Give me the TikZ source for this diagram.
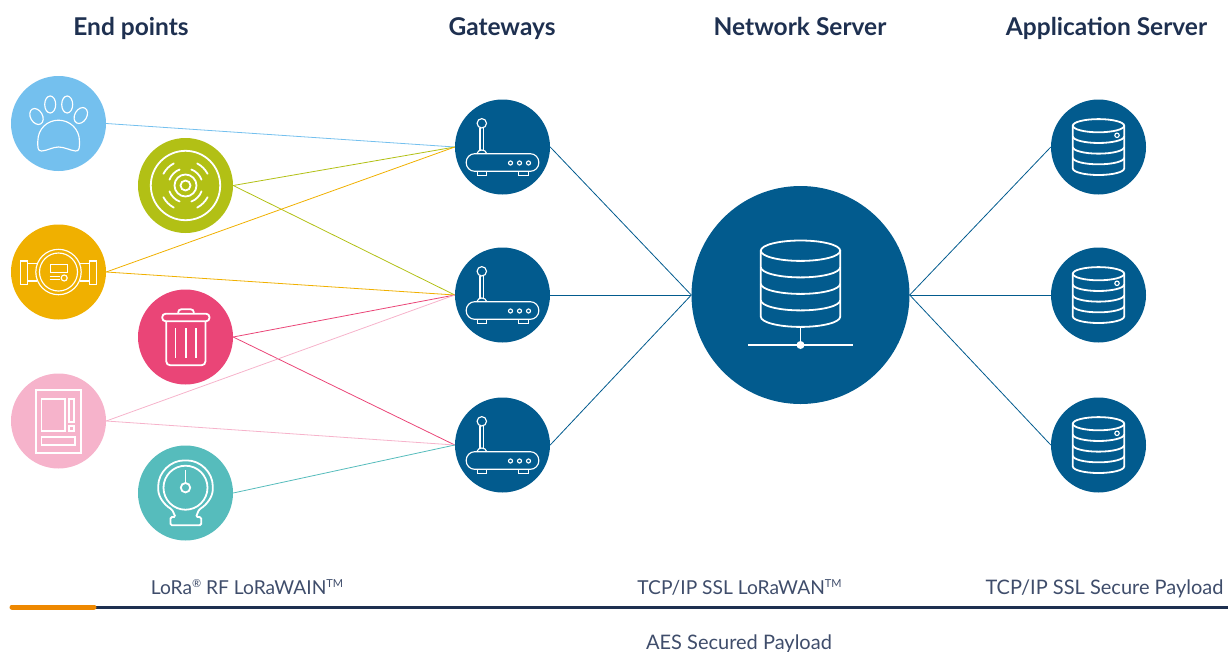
\documentclass[tikz,border=0pt]{standalone}
\usepackage{fontspec}
\setmainfont{Lato}
\usetikzlibrary{calc,positioning}

\definecolor{pawblue}{HTML}{74C0EE}
\definecolor{smokegreen}{HTML}{B2C015}
\definecolor{meteryellow}{HTML}{F0B000}
\definecolor{binred}{HTML}{EA4577}
\definecolor{vendpink}{HTML}{F6B3CB}
\definecolor{gaugeteal}{HTML}{56BCBC}
\definecolor{netblue}{HTML}{025B8E}
\definecolor{headnavy}{HTML}{1E3050}
\definecolor{capgrey}{HTML}{3F4D6B}
\definecolor{barorange}{HTML}{EE8800}

\newcommand{\capsup}[1]{\raisebox{.62ex}{\fontsize{11}{11}\selectfont #1}}

\tikzset{
  pics/pawicon/.style={code={
    \draw[iconline] (-22,-7) [rotate around={30:(-22,-7)}] ellipse (6 and 8.5);
    \draw[iconline] (-8.3,-19) ellipse (5.5 and 8.5);
    \draw[iconline] (8.7,-19) ellipse (5.5 and 8.5);
    \draw[iconline] (22.3,-8) [rotate around={-30:(22.3,-8)}] ellipse (6 and 8.5);
    \draw[iconline] (-20.7,18) .. controls (-20.7,5) and (-11,-3.3) .. (0,-3.3)
      .. controls (11,-3.3) and (21,5) .. (21,18)
      .. controls (21,24) and (21,28) .. (17,27.5)
      .. controls (12,27) and (6,23.5) .. (0,23.5)
      .. controls (-6,23.5) and (-12,27.5) .. (-17,27.5)
      .. controls (-21,27.5) and (-20.7,24) .. cycle;
  }},
  pics/smokeicon/.style={code={
    \draw[iconthick] (0,0) circle (34.7) (0,0) circle (11) (0,0) circle (5);
    \foreach \a in {0,90,180,270} {
      \draw[iconthick,line cap=round] (\a+28:25) arc (\a+28:\a+62:25);
      \draw[iconthick,line cap=round] (\a+20:17) arc (\a+20:\a+70:17);
    }
  }},
  pics/metericon/.style={code={
    \draw[iconline] (0,0) circle (22.7) (0,0) circle (19);
    \draw[iconline] (-37.7,-11) rectangle (-30.7,12.3) (30.7,-11) rectangle (37.7,12.3);
    \draw[iconline] (-30.7,-8.3) -- (-21.5,-8.3) (-30.7,9) -- (-21.5,9);
    \draw[iconline] (30.7,-8.3) -- (21.5,-8.3) (30.7,9) -- (21.5,9);
    \draw[iconline] (-8.3,-7.7) rectangle (9,0.3);
    \draw[iconline] (-9,4.3) -- (1.7,4.3) (-9,7.7) -- (1,7.7);
    \draw[iconline] (5.7,6) circle (3);
  }},
  pics/binicon/.style={code={
    \draw[iconthick,rounded corners=3.5] (-23.3,-23.3) rectangle (24,-15.7);
    \draw[iconthick,rounded corners=3] (-7.3,-23.3) -- (-7.3,-27.7) -- (8.3,-27.7) -- (8.3,-23.3);
    \draw[iconthick,rounded corners=4] (-19.3,-15.7) -- (-19.3,28.3) -- (20,28.3) -- (20,-15.7);
    \foreach \x in {-10,0.3,10.7}
      \draw[iconthick] (\x,-9) -- (\x,21);
  }},
  pics/vendicon/.style={code={
    \draw[iconthick] (-22.3,-31.3) rectangle (22.7,32);
    \draw[iconthick] (-17,-22.3) rectangle (6.7,10);
    \draw[iconthick] (10.3,-22.3) rectangle (15.7,1);
    \draw[iconthick] (10.3,5) rectangle (15.7,10);
    \draw[iconthick] (-17,16) rectangle (16.3,23.7);
  }},
  pics/gaugeicon/.style={code={
    \draw[iconthick] (0,-5.3) circle (22);
    \draw[iconthick] (0,-5.3) circle (4.7);
    \draw[iconthick] (0,-22.7) -- (0,-10);
    \draw[iconthick,rounded corners=1.5] (-13.5,16.5) .. controls (-21,12) and (-27.3,4) .. (-27.3,-5.3)
      .. controls (-27.3,-20.4) and (-15.1,-32.6) .. (0,-32.6)
      .. controls (15.1,-32.6) and (27.3,-20.4) .. (27.3,-5.3)
      .. controls (27.3,4) and (21,12) .. (13.5,16.5) -- (10.5,24) -- (15.7,24) -- (15.7,32.3) -- (-15,32.3) -- (-15,24) -- (-10,24) -- cycle;
  }},
  pics/routericon/.style={code={
    \draw[iconline,rounded corners=8.5] (-36.3,6.7) rectangle (36.3,24.3);
    \draw[iconline] (-25.3,24.3) rectangle (-16.3,28.3) (16.3,24.3) rectangle (25.7,28.3);
    \foreach \x in {8,17,26}
      \draw[iconline] (\x,16) circle (2);
    \draw[iconline] (-20.7,-23.7) circle (4.7);
    \draw[iconline] (-22.5,-19) -- (-22.5,3) (-18.9,-19) -- (-18.9,3);
    \draw[iconline] (-25.7,6.7) .. controls (-25,4.2) and (-23,3) .. (-20.7,3) .. controls (-18.4,3) and (-16.4,4.2) .. (-15.7,6.7);
  }},
  pics/dbstack/.style={code={
    \draw[iconthick] (0,0) ellipse (39.7 and 10.2);
    \draw[iconthick] (-39.7,0) -- (-39.7,66) arc (180:0:39.7 and 10.2) -- (39.7,0);
    \foreach \y in {16.5,33,49.5}
      \draw[iconthick] (-39.7,\y) arc (180:0:39.7 and 10.2);
  }},
}

\begin{document}
\begin{tikzpicture}[
    x=1pt,y=-1pt,
    iconline/.style={draw=white,line width=1.15pt},
    iconthick/.style={draw=white,line width=1.8pt},
    endpoint/.style={circle,fill=#1,inner sep=0pt,minimum size=95pt},
    gateway/.style={circle,fill=netblue,inner sep=0pt,minimum size=95pt},
    bigserver/.style={circle,fill=netblue,inner sep=0pt,minimum size=218pt},
    link/.style={draw=#1,line width=.8pt},
    heading/.style={anchor=base,text=headnavy,font=\fontsize{24.5}{28}\selectfont\bfseries},
    caption/.style={anchor=base,text=capgrey,font=\fontsize{20}{24}\selectfont},
    shortcap/.style={caption,font=\fontsize{19.2}{24}\selectfont}
    ]
    \useasboundingbox (0,0) rectangle (1230,651);

    \node(paw) [endpoint=pawblue] at (58.5,123.5) {};
    \node(smoke) [endpoint=smokegreen] at (185.5,185.5) {};
    \node(meter) [endpoint=meteryellow] at (58.5,272) {};
    \node(bin) [endpoint=binred] at (185.5,337) {};
    \node(vend) [endpoint=vendpink] at (58.5,421) {};
    \node(gauge) [endpoint=gaugeteal] at (185.5,493) {};

    \node(gw1) [gateway] at (502.5,147) {};
    \node(gw2) [gateway] at (502.5,295) {};
    \node(gw3) [gateway] at (502.5,445) {};

    \node(ns) [bigserver] at (800.5,295) {};

    \node(app1) [gateway] at (1098.5,147) {};
    \node(app2) [gateway] at (1098.5,295) {};
    \node(app3) [gateway] at (1098.5,445) {};

    % end points to gateways
    \draw[link=pawblue] (paw.east) -- (gw1.west);
    \draw[link=smokegreen] (smoke.east) -- (gw1.west);
    \draw[link=smokegreen] (smoke.east) -- (gw2.west);
    \draw[link=meteryellow] (meter.east) -- (gw1.west);
    \draw[link=meteryellow] (meter.east) -- (gw2.west);
    \draw[link=binred] (bin.east) -- (gw2.west);
    \draw[link=binred] (bin.east) -- (gw3.west);
    \draw[link=vendpink] (vend.east) -- (gw2.west);
    \draw[link=vendpink] (vend.east) -- (gw3.west);
    \draw[link=gaugeteal] (gauge.east) -- (gw3.west);

    % gateways and servers
    \foreach \g in {gw1,gw2,gw3}
      \draw[link=netblue] (\g.east) -- (ns.west);
    \foreach \a in {app1,app2,app3}
      \draw[link=netblue] (ns.east) -- (\a.west);

    \pic at (paw) {pawicon};
    \pic at (smoke) {smokeicon};
    \pic at (meter) {metericon};
    \pic at (bin) {binicon};
    \pic at (vend) {vendicon};
    \pic at (gauge) {gaugeicon};

    \foreach \g in {gw1,gw2,gw3}
      \pic at (\g) {routericon};

    \pic at ($(ns)+(0,-44.3)$) {dbstack};
    \draw[iconthick] ($(ns)+(0,31)$) -- ($(ns)+(0,50)$);
    \draw[iconthick] ($(ns)+(-52.7,50)$) -- ($(ns)+(52.7,50)$);
    \fill[white] ($(ns)+(0,50)$) circle (4);

    \foreach \a in {app1,app2,app3} {
      \pic[scale=.647] at ($(\a)+(0,-21.3)$) {dbstack};
      \draw[iconline] ($(\a)+(18.5,-11.7)$) circle (2.2);
    }

    \node(title_ep) [heading] at (131,35) {End points};
    \node(title_gw) [heading] at (502,35) {Gateways};
    \node(title_ns) [heading] at (800,35) {Network Server};
    \node(title_as) [heading] at (1106.5,35) {Application Server};

    \node(cap_lora) [shortcap] at (247,594) {LoRa\capsup{®} RF LoRaWAIN\capsup{TM}};
    \node(cap_tcp) [shortcap] at (739.5,594) {TCP/IP SSL LoRaWAN\capsup{TM}};
    \node(cap_sec) [caption] at (1104.5,594) {TCP/IP SSL Secure Payload};
    \node(cap_aes) [caption] at (739,649) {AES Secured Payload};

    \coordinate(barstart) at (12,607);
    \coordinate(barmid) at (94,607);
    \coordinate(barend) at (1228,607);
    \draw[headnavy,line width=3pt] (barstart) -- (barend);
    \draw[barorange,line width=5pt,line cap=round] (barstart) -- (barmid);

  \end{tikzpicture}
\end{document}
